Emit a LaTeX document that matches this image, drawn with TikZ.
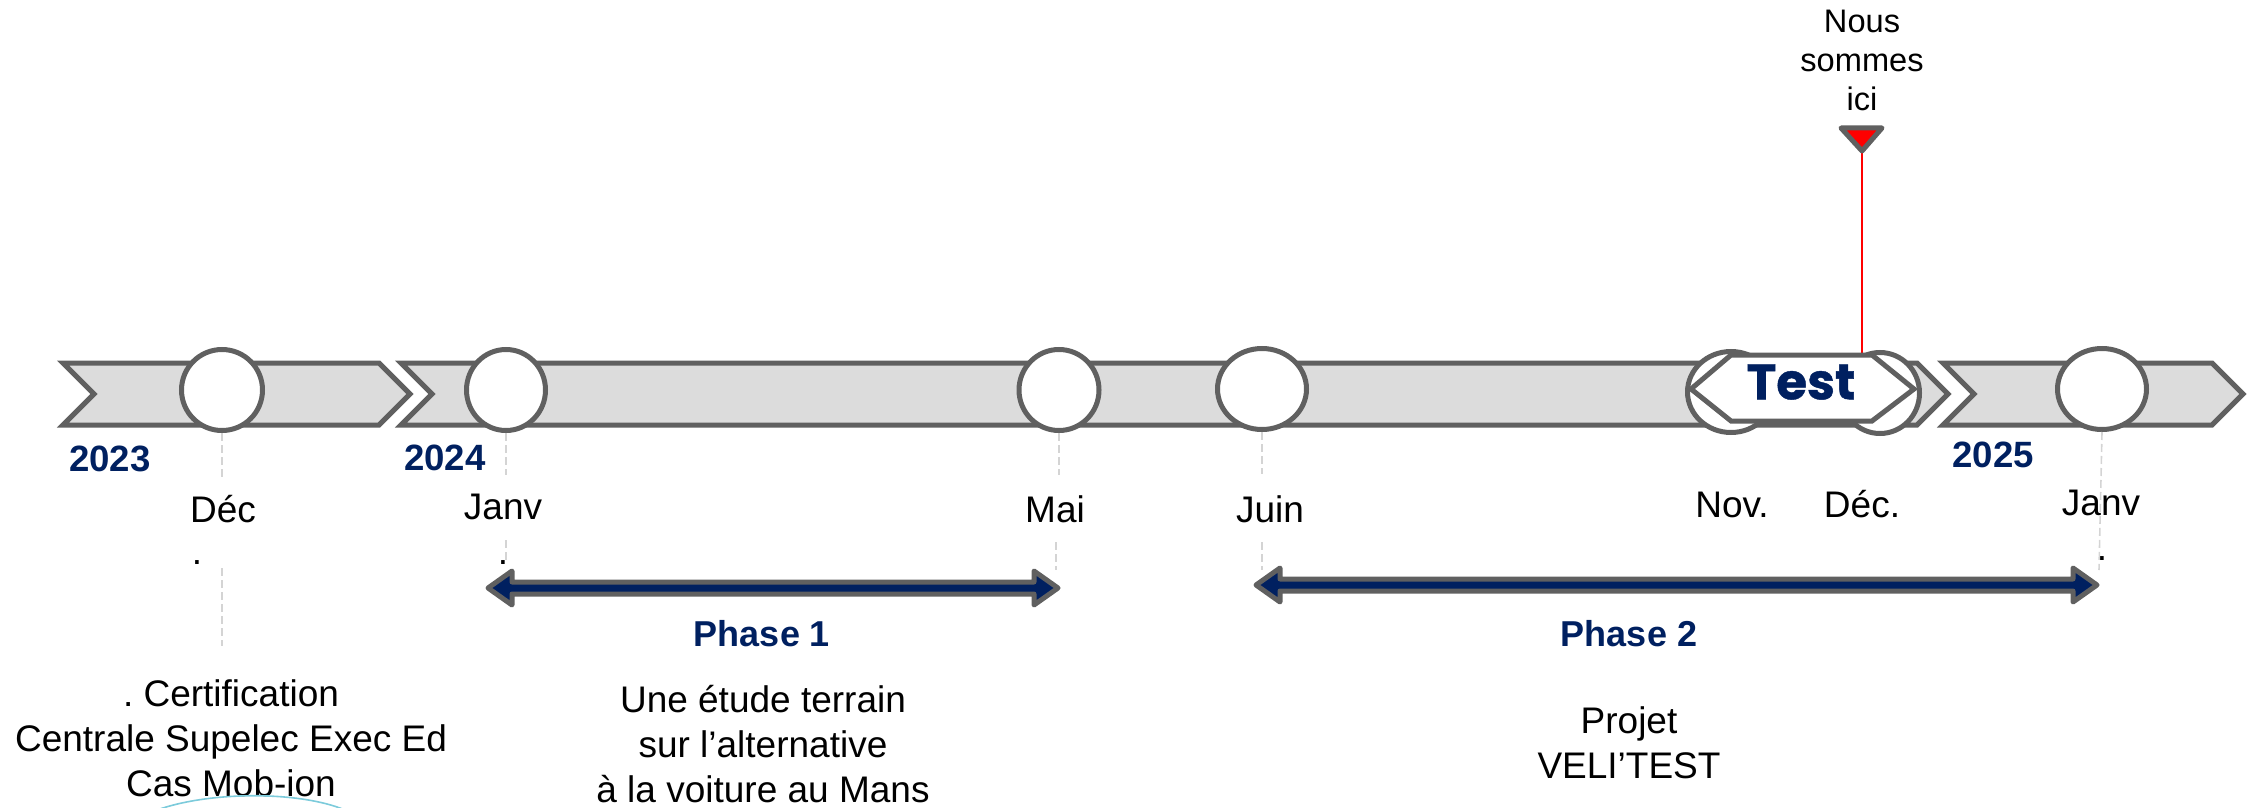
\documentclass[tikz,border=0pt]{standalone}
\usepackage{fontspec}
\setmainfont{Liberation Sans}
\newfontfamily\testfont{Poppins}[BoldFeatures={FakeBold=0.8}]
\usetikzlibrary{shapes.geometric,calc}

\definecolor{rim}{HTML}{606060}
\definecolor{bandgray}{HTML}{DCDCDC}
\definecolor{navy}{HTML}{002060}
\definecolor{guidegray}{HTML}{D4D4D4}
\definecolor{arcblue}{HTML}{7CCBDB}

\begin{document}
\begin{tikzpicture}[x=0.5pt,y=-0.5pt,
  bandshape/.style={draw=rim, fill=bandgray, line width=2.5pt, line join=miter},
  milestone/.style={ellipse, draw=rim, fill=white, line width=2.5pt, inner sep=0pt, minimum height=40.5pt},
  guideline/.style={draw=guidegray, line width=0.8pt, dash pattern=on 4pt off 2pt},
  monthlbl/.style={font=\fontsize{18.5}{22.5}\selectfont, anchor=base, inner sep=0pt},
  yearlbl/.style={font=\fontsize{18.3}{22}\selectfont\bfseries, text=navy, anchor=base, inner sep=0pt},
  phasearrow/.style={draw=rim, fill=navy, line width=2.5pt, line join=round},
  phaselbl/.style={font=\fontsize{18}{22}\selectfont\bfseries, text=navy, anchor=base, inner sep=0pt},
  bodytext/.style={font=\fontsize{18.5}{22.5}\selectfont, align=center, anchor=south, inner sep=0pt},
]
\useasboundingbox (0,0) rectangle (2255,808);

% timeline bands
\path[bandshape] (63,363) -- (379,363) -- (410,394) -- (379,425) -- (63,425) -- (94,394) -- cycle;
\path[bandshape] (401,363) -- (1917,363) -- (1948,394) -- (1917,425) -- (401,425) -- (432,394) -- cycle;
\path[bandshape] (1943,363) -- (2212,363) -- (2243,394) -- (2212,425) -- (1943,425) -- (1974,394) -- cycle;

% milestones
\node[milestone, minimum width=40.5pt] (m1) at (222,390) {};
\node[milestone, minimum width=39.5pt] (m2) at (506,390) {};
\node[milestone, minimum width=40pt]   (m3) at (1059,390) {};
\node[milestone, minimum width=44.5pt] (m4) at (1262,389) {};
\node[milestone, minimum width=43.5pt] (m5) at (1731,392) {};
\node[milestone, minimum width=39.5pt] (m6) at (1880,393) {};
\node[milestone, minimum width=44.5pt] (m7) at (2102,389) {};

% guide lines below milestones
\draw[guideline] (m1.south) -- ++(0,46);
\draw[guideline] (222,568) -- (222,646);
\draw[guideline] (m2.south) -- ++(0,42);
\draw[guideline] (506,540) -- (506,563);
\draw[guideline] (m3.south) -- ++(0,42);
\draw[guideline] (1056,542) -- (1056,570);
\draw[guideline] (m4.south) -- ++(0,42);
\draw[guideline] (1262,542) -- (1262,570);
\draw[guideline] (m7.south) -- (2099,570);

% current position marker
\coordinate (pin) at (1862,150);
\coordinate (pinfoot) at (1862,356);
\draw[red, line width=1pt] (pin) -- (pinfoot);
\path[draw=rim, fill=red, line width=2.5pt, line join=round] (1841,128) -- (1882,128) -- (1862,151) -- cycle;
\node[font=\fontsize{16.3}{19.5}\selectfont, align=center, anchor=south, inner sep=0pt] (here) at (1862,111) {Nous\\sommes\\ ici};

% test period
\path[draw=rim, fill=white, line width=2.5pt, line join=miter] (1691,389) -- (1731,355) -- (1872,355) -- (1914,389) -- (1872,421) -- (1731,421) -- cycle;
\node[font=\testfont\bfseries\fontsize{25}{30}\selectfont, text=navy, inner sep=0pt] (test) at (1801,382) {Test};

% years
\node[yearlbl] (y23) at (110,471) {2023};
\node[yearlbl] (y24) at (445,470) {2024};
\node[yearlbl] (y25) at (1993,467) {2025};

% months
\node[monthlbl] (l1) at (223,522) {Déc};
\node[monthlbl] (l1d) at (197,564) {.};
\node[monthlbl] (l2) at (503,519) {Janv};
\node[monthlbl] (l2d) at (503,564) {.};
\node[monthlbl] (l3) at (1055,522) {Mai};
\node[monthlbl] (l4) at (1270,522) {Juin};
\node[monthlbl] (l5) at (1732,517) {Nov.};
\node[monthlbl] (l6) at (1862,517) {Déc.};
\node[monthlbl] (l7) at (2101,515) {Janv};
\node[monthlbl] (l7d) at (2102,560) {.};

% phase arrows
\coordinate (p1l) at (488,588);
\coordinate (p1r) at (1058,588);
\coordinate (p2l) at (1256,585);
\coordinate (p2r) at (2097,585);
\path[phasearrow] (p1l) -- ++(24,-17) -- ++(0,11) -- ($(p1r)+(-24,-6)$) -- ++(0,-11) -- (p1r) -- ++(-24,17) -- ++(0,-11) -- ($(p1l)+(24,6)$) -- ++(0,11) -- cycle;
\path[phasearrow] (p2l) -- ++(24,-17) -- ++(0,11) -- ($(p2r)+(-24,-6)$) -- ++(0,-11) -- (p2r) -- ++(-24,17) -- ++(0,-11) -- ($(p2l)+(24,6)$) -- ++(0,11) -- cycle;
\node[phaselbl] (ph1) at (762,646) {Phase 1};
\node[phaselbl] (ph2) at (1629,646) {Phase 2};

% descriptions
\node[bodytext] (d1) at (231,797) {.\ Certification\\Centrale Supelec Exec Ed\\Cas Mob-ion};
\node[bodytext] (d2) at (763,803) {Une étude terrain\\sur l’alternative\\à la voiture au Mans};
\node[bodytext] (d3) at (1629,779) {Projet\\VELI’TEST};

% decorative arc at the bottom
\draw[arcblue, line width=0.8pt] (157,810) .. controls (210,791) and (300,791) .. (345,810);
\end{tikzpicture}
\end{document}
